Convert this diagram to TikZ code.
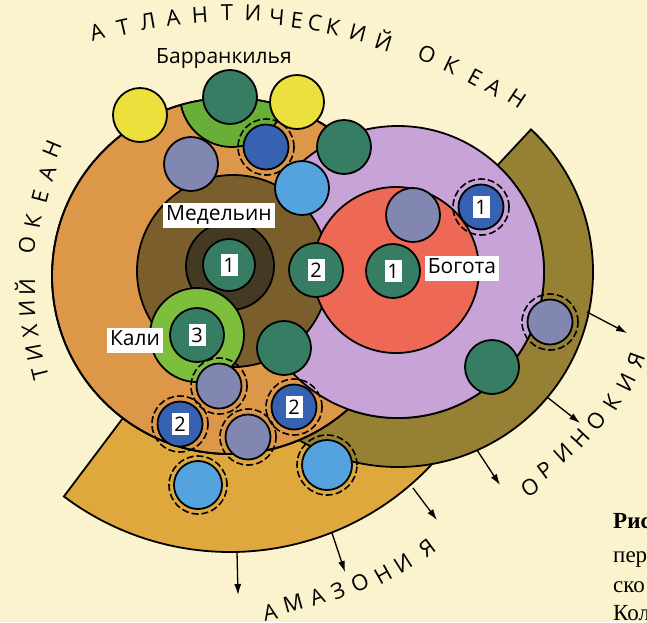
\documentclass[tikz,border=0pt]{standalone}
\usepackage{fontspec}
\setmainfont{Open Sans}
\newfontfamily\capfont{Liberation Serif}
\usetikzlibrary{arrows.meta}
\definecolor{paper}{RGB}{250,243,205}
\definecolor{orangeZone}{RGB}{221,151,72}
\definecolor{amazonZone}{RGB}{222,168,60}
\definecolor{oliveZone}{RGB}{150,128,52}
\definecolor{lilacZone}{RGB}{200,163,216}
\definecolor{bogRed}{RGB}{238,105,85}
\definecolor{medBrown}{RGB}{122,95,45}
\definecolor{coreDark}{RGB}{68,58,36}
\definecolor{kaliGreen}{RGB}{125,190,60}
\definecolor{barrGreen}{RGB}{105,175,55}
\definecolor{tealDot}{RGB}{55,125,100}
\definecolor{yellowDot}{RGB}{236,225,60}
\definecolor{slateDot}{RGB}{130,135,178}
\definecolor{darkBlueDot}{RGB}{55,98,178}
\definecolor{lightBlueDot}{RGB}{85,163,222}

\tikzset{
  outline/.style={draw=black, line width=1.8pt},
  ball/.style={circle, draw=black, line width=1.8pt, inner sep=0pt, minimum size=54pt},
  smallball/.style={ball, minimum size=45pt},
  ring/.style={circle, draw=black, dash pattern=on 7pt off 3pt, line width=1.6pt, inner sep=0pt, minimum size=56pt},
  numbox/.style={fill=white, inner sep=0pt, minimum width=17pt, minimum height=22pt, font=\fontsize{20}{20}\selectfont},
  citybox/.style={fill=white, inner xsep=3pt, inner ysep=3pt, text height=15pt, text depth=4pt, font=\fontsize{21}{21}\selectfont},
  letter/.style={inner sep=0pt, font=\fontsize{22}{22}\selectfont},
  flow/.style={line width=1.3pt, -{Latex[length=11pt,width=7pt]}},
}

\begin{document}
\begin{tikzpicture}[x=1pt, y=-1pt]
  \useasboundingbox (0,0) rectangle (647,622);
  \fill[paper] (0,0) rectangle (647,622);

  % centres of the zones
  \coordinate (orc) at (230,276);
  \coordinate (lic) at (398,272);

  % Amazonia and Orinoquia
  \filldraw[fill=amazonZone, outline] ([shift={(30:276)}]orc) arc[start angle=30, end angle=127, radius=276]
    -- ([shift={(127:178)}]orc) arc[start angle=127, end angle=30, radius=178] -- cycle;
  \filldraw[fill=oliveZone, outline] ([shift={(-47:195)}]lic) arc[start angle=-47, end angle=140, radius=195]
    -- ([shift={(140:146)}]lic) arc[start angle=140, end angle=-47, radius=146] -- cycle;

  % main zones
  \filldraw[fill=orangeZone, outline] (orc) circle[radius=178];
  \begin{scope}
    \clip (orc) circle[radius=178];
    \filldraw[fill=barrGreen, outline] (232,95) circle[radius=52];
  \end{scope}
  \draw[outline] (orc) circle[radius=178];
  \filldraw[fill=lilacZone, outline] (lic) circle[radius=146];
  \filldraw[fill=medBrown, outline] (233,271) circle[radius=96];
  \filldraw[fill=bogRed, outline] (396,270) circle[radius=83];
  \filldraw[fill=coreDark, outline] (230,266) circle[radius=44];
  \filldraw[fill=kaliGreen, outline] (197,335) circle[radius=47];

  % centres
  \node[ball, fill=yellowDot] (yelA) at (140,115) {};
  \node[ball, fill=tealDot] (barr) at (230,97) {};
  \node[ball, fill=yellowDot] (yelB) at (297,102) {};
  \node[ball, fill=slateDot] (slA) at (191,164) {};
  \node[ring] at (266,147) {};
  \node[smallball, fill=darkBlueDot] (dbA) at (266,147) {};
  \node[ball, fill=lightBlueDot] (lbA) at (302,188) {};
  \node[ball, fill=tealDot] (teA) at (344,147) {};
  \node[ball, fill=slateDot] (slB) at (413,215) {};
  \node[ring] at (481,207) {};
  \node[smallball, fill=darkBlueDot] (dbB) at (481,207) {};
  \node[numbox] at (dbB) {1};
  \node[ball, fill=tealDot] (bog) at (393,271) {};
  \node[numbox] at (bog) {1};
  \node[ball, fill=tealDot] (two) at (316,270) {};
  \node[numbox] at (two) {2};
  \node[ball, fill=tealDot, minimum size=52pt] (med) at (229,265) {};
  \node[numbox] at (med) {1};
  \node[ball, fill=tealDot] (kali) at (197,335) {};
  \node[numbox] at (kali) {3};
  \node[ball, fill=tealDot] (teB) at (284,348) {};
  \node[ring] at (219,386) {};
  \node[smallball, fill=slateDot] (slC) at (219,386) {};
  \node[ring] at (180,424) {};
  \node[smallball, fill=darkBlueDot] (dbC) at (180,424) {};
  \node[numbox] at (dbC) {2};
  \node[ring] at (248,437) {};
  \node[smallball, fill=slateDot] (slD) at (248,437) {};
  \node[ring] at (294,407) {};
  \node[smallball, fill=darkBlueDot] (dbD) at (294,407) {};
  \node[numbox] at (dbD) {2};
  \node[ring, minimum size=58pt] at (198,485) {};
  \node[smallball, fill=lightBlueDot, minimum size=48pt] (lbB) at (198,485) {};
  \node[ring, minimum size=60pt] at (327,465) {};
  \node[smallball, fill=lightBlueDot, minimum size=50pt] (lbC) at (327,465) {};
  \node[ball, fill=tealDot] (teC) at (492,367) {};
  \node[ring] at (550,322) {};
  \node[smallball, fill=slateDot] (slE) at (550,322) {};

  % city names
  \node[citybox] (medName) at (219,215) {Медельин};
  \node[citybox] (bogName) at (462,268) {Богота};
  \node[citybox] (kaliName) at (135,340) {Кали};
  \node[anchor=base, inner sep=0pt, font=\fontsize{21}{21}\selectfont] (barrName) at (224,63) {Барранкилья};

  % oceans and regions
  \foreach \ch/\px/\py in {А/97/32, Т/123/27, Л/148/22, А/173/18, Н/200/15, Т/227/13, И/253/13, Ч/277/17,
      Е/297/20, С/315/23, К/333/27, И/358/33, Й/384/40, О/427/54, К/451/65, Е/475/77, А/494/87, Н/517/98}
    \node[letter, rotate={atan2(520-\py,\px-236)-90}] at (\px,\py) {\ch};
  \foreach \ch/\px/\py in {Т/40/374, И/34/353, Х/30/331, И/27/309, Й/25/287,
      О/27/245, К/33/221, Е/40/197, А/47/173, Н/52/149}
    \node[letter, rotate={atan2(287-\py,\px-386)-90}] at (\px,\py) {\ch};
  \foreach \ch/\px/\py in {А/270/612, М/293/603, А/317/597, З/338/591, О/360/583, Н/383/575, И/403/563, Я/427/548}
    \node[letter, rotate={atan2(230-\py,\px-190)+90}] at (\px,\py) {\ch};
  \foreach \ch/\px/\py in {О/530/487, Р/545/470, И/563/453, Н/580/438, О/596/421, К/612/403, И/626/383, Я/636/360}
    \node[letter, rotate={atan2(272-\py,\px-398)+90}] at (\px,\py) {\ch};

  % flows
  \coordinate (orA) at (587,312);  \coordinate (orA') at (627,333);
  \coordinate (orB) at (547,397);  \coordinate (orB') at (580,423);
  \coordinate (orC) at (477,450);  \coordinate (orC') at (500,485);
  \coordinate (amA) at (413,488);  \coordinate (amA') at (437,520);
  \coordinate (amB) at (332,533);  \coordinate (amB') at (345,572);
  \coordinate (amC) at (237,552);  \coordinate (amC') at (238,595);
  \foreach \f in {orA, orB, orC, amA, amB, amC}
    \draw[flow] (\f) -- (\f');

  % caption, cut by the page edge
  \begin{scope}
    \clip (0,0) rectangle (647,622);
    \node[anchor=base west, inner sep=0pt, font=\capfont\bfseries\fontsize{23}{23}\selectfont] (capA) at (613,528) {Рис.};
    \node[anchor=base west, inner sep=0pt, font=\capfont\fontsize{23}{23}\selectfont] (capB) at (613,562) {пер};
    \node[anchor=base west, inner sep=0pt, font=\capfont\fontsize{23}{23}\selectfont] (capC) at (613,592) {ско};
    \node[anchor=base west, inner sep=0pt, font=\capfont\fontsize{23}{23}\selectfont] (capD) at (613,620) {Кол};
  \end{scope}
\end{tikzpicture}
\end{document}
